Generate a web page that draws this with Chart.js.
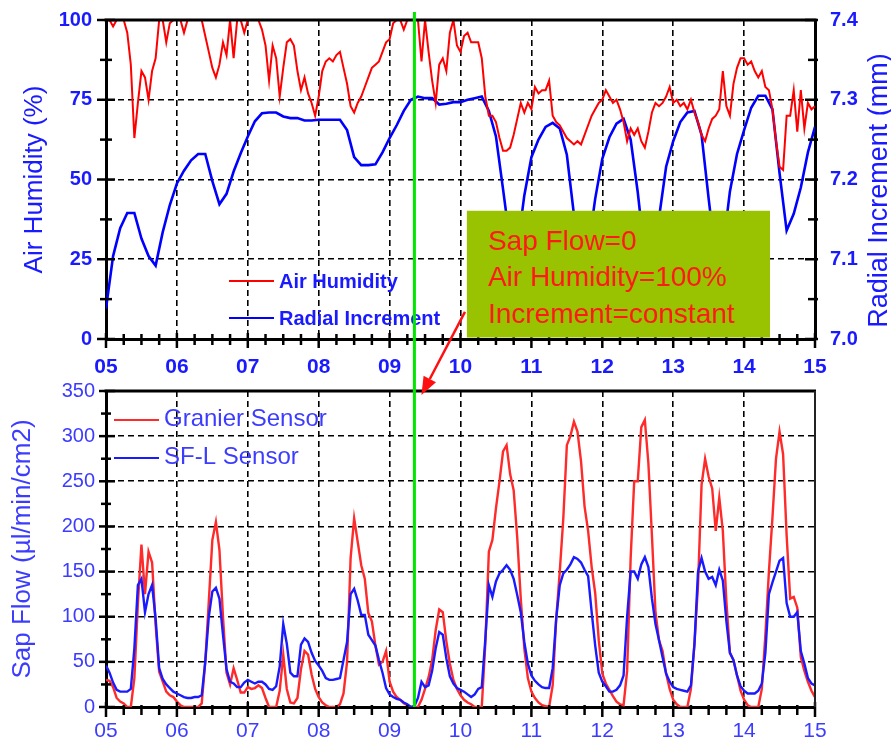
<!DOCTYPE html>
<html lang="en">
<head>
<meta charset="UTF-8" />
<title>Air humidity, radial increment and sap flow</title>
<script src="https://cdn.jsdelivr.net/npm/chart.js@4.4.1/dist/chart.umd.min.js"></script>
<style>
  body { margin: 0; background: #fff; }
  #wrap { position: relative; width: 891px; height: 740px; }
  #sapChart { position: absolute; left: 0; top: 375px; z-index: 1; }
  #topChart { position: absolute; left: 0; top: 0; z-index: 2; }
</style>
</head>
<body>
<div id="wrap">
  <canvas id="sapChart" width="891" height="365"></canvas>
  <canvas id="topChart" width="891" height="740"></canvas>
</div>
<script>
// sampling grids (days 05..15)
const t05 = Array.from({length: 201}, (_, i) => +(5 + i * 0.05).toFixed(2));
const t10 = Array.from({length: 101}, (_, i) => +(5 + i * 0.1).toFixed(1));
const dayLabels = ['05', '06', '07', '08', '09', '10', '11', '12', '13', '14', '15'];

// air humidity (%), every 0.05 day
const airHumidity = [
  100, 100, 98, 100, 100, 100, 96, 86, 63, 74, 84, 82, 75, 84, 88, 100, 100, 93, 99, 100,
  100, 100, 96, 100, 100, 100, 100, 100, 95, 90, 85, 82, 86, 93, 89, 100, 88, 100, 100, 96,
  100, 100, 100, 100, 97, 92, 81, 92, 88, 76, 85, 93, 94, 92, 84, 78, 82, 77, 74, 70,
  76, 84, 87, 88, 87, 89, 90, 85, 80, 73, 71, 74, 76, 79, 82, 85, 86, 87, 90, 93,
  94, 99, 100, 100, 97, 100, 100, 100, 100, 87, 100, 90, 81, 74, 86, 88, 84, 96, 100, 92,
  90, 95, 96, 93, 93, 93, 88, 76, 70, 70, 68, 63, 59, 59, 60, 64, 69, 74, 71, 74,
  72, 79, 77, 78, 78, 81, 70, 68, 67, 65, 63, 62, 61, 62, 61, 64, 67, 70, 72, 74,
  75, 78, 76, 74, 75, 72, 68, 62, 66, 64, 66, 62, 60, 65, 71, 74, 73, 74, 76, 79,
  74, 75, 73, 74, 72, 75, 71, 68, 64, 62, 66, 69, 70, 72, 84, 73, 70, 80, 85, 88,
  88, 86, 87, 84, 82, 84, 79, 78, 72, 62, 54, 53, 70, 70, 78, 65, 78, 66, 74, 72,
  73
];

// radial increment (mm), every 0.1 day
const radialIncrement = [
  7.038, 7.104, 7.139, 7.158, 7.158, 7.126, 7.104, 7.092, 7.134, 7.168,
  7.195, 7.211, 7.224, 7.232, 7.232, 7.198, 7.169, 7.182, 7.210, 7.233,
  7.254, 7.273, 7.283, 7.284, 7.284, 7.279, 7.277, 7.277, 7.274, 7.274,
  7.275, 7.275, 7.275, 7.275, 7.262, 7.228, 7.218, 7.218, 7.219, 7.234,
  7.252, 7.268, 7.286, 7.300, 7.304, 7.302, 7.302, 7.294, 7.295, 7.297,
  7.297, 7.300, 7.302, 7.304, 7.286, 7.254, 7.188, 7.120, 7.112, 7.180,
  7.228, 7.250, 7.266, 7.271, 7.264, 7.231, 7.156, 7.088, 7.112, 7.176,
  7.226, 7.253, 7.270, 7.276, 7.250, 7.184, 7.104, 7.096, 7.152, 7.216,
  7.248, 7.272, 7.284, 7.286, 7.256, 7.176, 7.100, 7.112, 7.185, 7.232,
  7.262, 7.290, 7.305, 7.305, 7.288, 7.208, 7.136, 7.157, 7.190, 7.234,
  7.266
];

// sap flow (µl/min/cm2), every 0.05 day
const granierSensor = [
  30, 29, 22, 10, 6, 4, 0, 0, 32, 115, 180, 125, 172, 160, 91, 39, 28, 17, 13, 11,
  6, 2, 0, 0, 0, 0, 0, 4, 50, 117, 185, 205, 174, 100, 38, 25, 43, 30, 16, 16,
  22, 20, 21, 24, 21, 10, 0, 0, 0, 18, 58, 20, 5, 4, 10, 42, 62, 58, 36, 20,
  11, 5, 2, 0, 0, 0, 3, 15, 50, 165, 209, 183, 157, 142, 104, 95, 68, 47, 50, 62,
  28, 17, 11, 8, 4, 2, 0, 0, 0, 8, 20, 33, 52, 85, 108, 105, 73, 48, 30, 20,
  13, 8, 5, 3, 0, 0, 0, 70, 172, 185, 220, 250, 283, 290, 258, 240, 188, 120, 65, 32,
  17, 10, 5, 2, 1, 0, 24, 98, 150, 209, 290, 300, 316, 305, 272, 222, 195, 155, 126, 74,
  37, 26, 19, 12, 6, 3, 2, 40, 165, 250, 250, 310, 318, 270, 190, 105, 74, 62, 37, 20,
  8, 3, 0, 0, 0, 20, 70, 135, 246, 275, 255, 242, 195, 232, 195, 117, 60, 52, 35, 18,
  8, 2, 0, 0, 0, 20, 80, 150, 210, 275, 305, 280, 190, 120, 122, 110, 55, 40, 28, 18,
  11
];
const sflSensor = [
  46, 38, 27, 19, 17, 17, 17, 20, 65, 135, 142, 105, 125, 135, 98, 43, 31, 25, 21, 17,
  15, 13, 11, 10, 10, 11, 11, 13, 50, 100, 128, 132, 120, 80, 42, 28, 26, 22, 22, 27,
  30, 28, 26, 28, 28, 25, 20, 19, 23, 45, 92, 70, 38, 34, 34, 69, 76, 72, 60, 51,
  46, 40, 32, 30, 30, 31, 32, 52, 72, 125, 131, 118, 102, 102, 80, 74, 68, 52, 38, 21,
  14, 11, 9, 8, 5, 3, 0, 1, 10, 28, 22, 24, 40, 65, 83, 80, 54, 34, 26, 21,
  19, 17, 14, 11, 14, 20, 22, 75, 135, 122, 139, 148, 152, 157, 152, 142, 124, 105, 72, 48,
  35, 29, 25, 22, 21, 21, 43, 98, 135, 148, 152, 158, 166, 164, 160, 152, 145, 105, 68, 38,
  28, 23, 17, 17, 19, 24, 35, 100, 150, 150, 142, 158, 166, 155, 120, 92, 74, 55, 37, 28,
  22, 20, 19, 18, 17, 24, 70, 150, 165, 150, 142, 144, 135, 152, 140, 95, 60, 52, 35, 23,
  18, 15, 15, 15, 18, 26, 60, 125, 138, 150, 162, 165, 115, 100, 100, 105, 62, 48, 32, 26,
  24
];

// annotation
const markDay = 9.35;
const noteLines = ['Sap Flow=0', 'Air Humidity=100%', 'Increment=constant'];
const noteBox = {x0: 10.09, x1: 14.365, yTop: 40.2};
const arrowFrom = {x: 10.063, y: 8.5};     // top panel (day, %)
const arrowTo = {x: 9.449, y: 345.6};      // bottom panel (day, sap flow)

const FONT = '"Liberation Sans", Arial, Helvetica, sans-serif';
const TOP_BLUE = '#1a1aff';
const LOW_BLUE = '#3c3cff';
const SAP_TOP = 375;
const NONE = 'rgba(0,0,0,0)';
Chart.defaults.font.family = FONT;

function onGrid(c, lo, hi, major) {
  if (!c.tick) return false;
  const v = c.tick.value, k = v / major;
  return v > lo + 1e-9 && v < hi - 1e-9 && Math.abs(k - Math.round(k)) < 1e-6;
}

// chart.js tick marks are kept invisible (they only space the labels);
// the visible ones are drawn by axisTicks so they can cross the axis line
function xAxis(o) {
  return {
    type: 'linear', min: 5, max: 15,
    ticks: {
      count: 41, autoSkip: false, maxRotation: 0, padding: o.pad, color: o.color,
      font: {size: 21, weight: o.weight},
      callback: v => Number.isInteger(v) ? dayLabels[v - 5] : ''
    },
    grid: {
      color: c => onGrid(c, 5, 15, 1) ? '#000' : NONE, lineWidth: 1.6,
      tickColor: NONE, tickLength: o.tick
    },
    border: {color: '#000', width: 3, dash: [6, 4]},
    afterFit: s => { s.height = o.height; }
  };
}

function axisTicks(chart, id, major, inMaj, outMaj, inMin, outMin) {
  const s = chart.scales[id], ctx = chart.ctx, a = chart.chartArea;
  ctx.save();
  ctx.strokeStyle = '#000';
  ctx.lineWidth = 2.5;
  s.ticks.forEach(t => {
    const k = t.value / major, isMaj = Math.abs(k - Math.round(k)) < 1e-6;
    const i = isMaj ? inMaj : inMin, o = isMaj ? outMaj : outMin;
    const p = s.getPixelForValue(t.value);
    ctx.beginPath();
    if (s.isHorizontal()) { ctx.moveTo(p, a.bottom - i); ctx.lineTo(p, a.bottom + o); }
    else if (s.position === 'left') { ctx.moveTo(a.left - o, p); ctx.lineTo(a.left + i, p); }
    else { ctx.moveTo(a.right + o, p); ctx.lineTo(a.right - i, p); }
    ctx.stroke();
  });
  ctx.restore();
}

function drawLegend(chart, x, y, gap, font, color, lift) {
  const ctx = chart.ctx;
  ctx.save();
  chart.data.datasets.forEach((ds, i) => {
    const yy = y + i * gap;
    ctx.strokeStyle = ds.borderColor;
    ctx.lineWidth = 2;
    ctx.beginPath(); ctx.moveTo(x, yy); ctx.lineTo(x + 45, yy); ctx.stroke();
    ctx.fillStyle = color;
    ctx.font = font;
    ctx.textBaseline = 'alphabetic';
    ctx.fillText(ds.label, x + 50, yy + lift);
  });
  ctx.restore();
}

// ---------- bottom panel: sap flow ----------
const sapChart = new Chart(document.getElementById('sapChart'), {
  type: 'line',
  data: {
    datasets: [
      {label: 'Granier Sensor', data: t05.map((x, i) => ({x, y: granierSensor[i]})),
       borderColor: '#ff2a2a', borderWidth: 2.4, pointRadius: 0, order: 1},
      {label: 'SF-L Sensor', data: t05.map((x, i) => ({x, y: sflSensor[i]})),
       borderColor: '#1a1aff', borderWidth: 2.4, pointRadius: 0, order: 0}
    ]
  },
  options: {
    responsive: false, animation: false, events: [],
    layout: {padding: {top: 16, bottom: 0, left: 0, right: 76}},
    plugins: {legend: {display: false}, tooltip: {enabled: false}},
    scales: {
      x: xAxis({pad: 4, tick: 8, height: 33, color: LOW_BLUE, weight: 'normal'}),
      y: {
        min: 0, max: 350,
        ticks: {count: 15, autoSkip: false, padding: 3, color: LOW_BLUE, font: {size: 20},
                callback: v => v % 50 === 0 ? v : ''},
        grid: {color: c => onGrid(c, 0, 350, 50) ? '#000' : NONE, lineWidth: 1.6,
               tickColor: NONE, tickLength: 8},
        border: {color: '#000', width: 3, dash: [6, 4]},
        title: {display: true, text: 'Sap Flow (µl/min/cm2)', color: LOW_BLUE,
                font: {size: 26}, padding: {top: 7, bottom: 0}},
        afterFit: s => { s.width = 106; }
      }
    }
  },
  plugins: [{
    id: 'sapDecor',
    afterDraw(chart) {
      const ctx = chart.ctx, a = chart.chartArea;
      axisTicks(chart, 'x', 1, 5, 10, 2, 8);
      axisTicks(chart, 'y', 50, 9, 7, 5, 5);
      ctx.save();
      ctx.strokeStyle = '#000';
      ctx.lineWidth = 3;
      ctx.beginPath(); ctx.moveTo(a.left - 1.5, a.top); ctx.lineTo(a.right + 1, a.top); ctx.stroke();
      ctx.lineWidth = 2;
      ctx.strokeStyle = '#222';
      ctx.beginPath(); ctx.moveTo(a.right, a.top); ctx.lineTo(a.right, a.bottom); ctx.stroke();
      ctx.restore();
      drawLegend(chart, a.left + 8, a.top + 29, 38, '24px ' + FONT, LOW_BLUE, 6);
    }
  }]
});

// ---------- top panel: humidity + radial increment ----------
new Chart(document.getElementById('topChart'), {
  type: 'line',
  data: {
    datasets: [
      {label: 'Air Humidity', data: t05.map((x, i) => ({x, y: airHumidity[i]})),
       borderColor: '#ff0000', borderWidth: 2, pointRadius: 0, yAxisID: 'y'},
      {label: 'Radial Increment', data: t10.map((x, i) => ({x, y: radialIncrement[i]})),
       borderColor: '#0000ff', borderWidth: 2.6, pointRadius: 0, yAxisID: 'y2'}
    ]
  },
  options: {
    responsive: false, animation: false, events: [],
    layout: {padding: {top: 20, bottom: 365, left: 0, right: 0}},
    plugins: {legend: {display: false}, tooltip: {enabled: false}},
    scales: {
      x: xAxis({pad: 6, tick: 10, height: 36, color: TOP_BLUE, weight: 'bold'}),
      y: {
        position: 'left', min: 0, max: 100,
        ticks: {count: 9, autoSkip: false, padding: 4, color: TOP_BLUE,
                font: {size: 20, weight: 'bold'}, callback: v => v % 25 === 0 ? v : ''},
        grid: {color: c => onGrid(c, 0, 100, 25) ? '#000' : NONE, lineWidth: 1.6,
               tickColor: NONE, tickLength: 10},
        border: {color: '#000', width: 3, dash: [6, 4]},
        title: {display: true, text: 'Air Humidity (%)', color: TOP_BLUE,
                font: {size: 26}, padding: {top: 19, bottom: 0}},
        afterFit: s => { s.width = 106; }
      },
      y2: {
        position: 'right', min: 7.0, max: 7.4,
        ticks: {count: 9, precision: 2, autoSkip: false, padding: 5, color: TOP_BLUE,
                font: {size: 20, weight: 'bold'},
                callback: v => Math.round(v * 100) % 10 === 0 ? v.toFixed(1) : ''},
        grid: {drawOnChartArea: false, color: NONE, tickColor: NONE, tickLength: 10},
        border: {color: '#000', width: 3},
        afterFit: s => { s.width = 76; }
      }
    }
  },
  plugins: [{
    id: 'topDecor',
    afterDraw(chart) {
      const ctx = chart.ctx, a = chart.chartArea;
      const xs = chart.scales.x, ys = chart.scales.y;
      axisTicks(chart, 'x', 1, 6, 9, 5, 6);
      axisTicks(chart, 'y', 25, 9, 9, 6, 6);
      axisTicks(chart, 'y2', 0.1, 10, 3, 7, 3);
      ctx.save();
      ctx.strokeStyle = '#000';
      ctx.lineWidth = 3;
      ctx.beginPath(); ctx.moveTo(a.left - 1.5, a.top); ctx.lineTo(a.right + 1.5, a.top); ctx.stroke();
      ctx.restore();

      drawLegend(chart, a.left + 123, a.top + 261, 37, 'bold 20px ' + FONT, TOP_BLUE, 7);

      // right axis title, reading bottom to top
      ctx.save();
      ctx.translate(880, (a.top + a.bottom) / 2 + 11);
      ctx.rotate(-Math.PI / 2);
      ctx.fillStyle = TOP_BLUE;
      ctx.font = '27px ' + FONT;
      ctx.textAlign = 'center';
      ctx.textBaseline = 'middle';
      ctx.fillText('Radial Increment (mm)', 0, 0);
      ctx.restore();

      // note box
      const bx0 = xs.getPixelForValue(noteBox.x0), bx1 = xs.getPixelForValue(noteBox.x1);
      const by0 = ys.getPixelForValue(noteBox.yTop), by1 = a.bottom - 1.5;
      ctx.save();
      ctx.fillStyle = '#99c200';
      ctx.fillRect(bx0, by0, bx1 - bx0, by1 - by0);
      ctx.fillStyle = '#ff1a1a';
      ctx.font = '28px ' + FONT;
      ctx.textBaseline = 'alphabetic';
      noteLines.forEach((t, i) => ctx.fillText(t, bx0 + 21, by0 + 39 + i * 36.5));
      ctx.restore();

      // green marker across both panels
      const gx = xs.getPixelForValue(markDay);
      ctx.save();
      ctx.strokeStyle = '#00e600';
      ctx.lineWidth = 3;
      ctx.beginPath(); ctx.moveTo(gx, 12); ctx.lineTo(gx, SAP_TOP + sapChart.chartArea.bottom); ctx.stroke();
      ctx.restore();

      // arrow from note box down to the sap flow panel
      const ax0 = xs.getPixelForValue(arrowFrom.x), ay0 = ys.getPixelForValue(arrowFrom.y);
      const ax1 = sapChart.scales.x.getPixelForValue(arrowTo.x);
      const ay1 = SAP_TOP + sapChart.scales.y.getPixelForValue(arrowTo.y);
      const len = Math.hypot(ax1 - ax0, ay1 - ay0), ux = (ax1 - ax0) / len, uy = (ay1 - ay0) / len;
      const hx = ax1 - ux * 18, hy = ay1 - uy * 18;
      ctx.save();
      ctx.strokeStyle = '#ff1010';
      ctx.fillStyle = '#ff1010';
      ctx.lineWidth = 2.5;
      ctx.beginPath(); ctx.moveTo(ax0, ay0); ctx.lineTo(hx, hy); ctx.stroke();
      ctx.beginPath();
      ctx.moveTo(ax1, ay1);
      ctx.lineTo(hx - uy * 7, hy + ux * 7);
      ctx.lineTo(hx + uy * 7, hy - ux * 7);
      ctx.closePath();
      ctx.fill();
      ctx.restore();
    }
  }]
});
</script>
</body>
</html>
